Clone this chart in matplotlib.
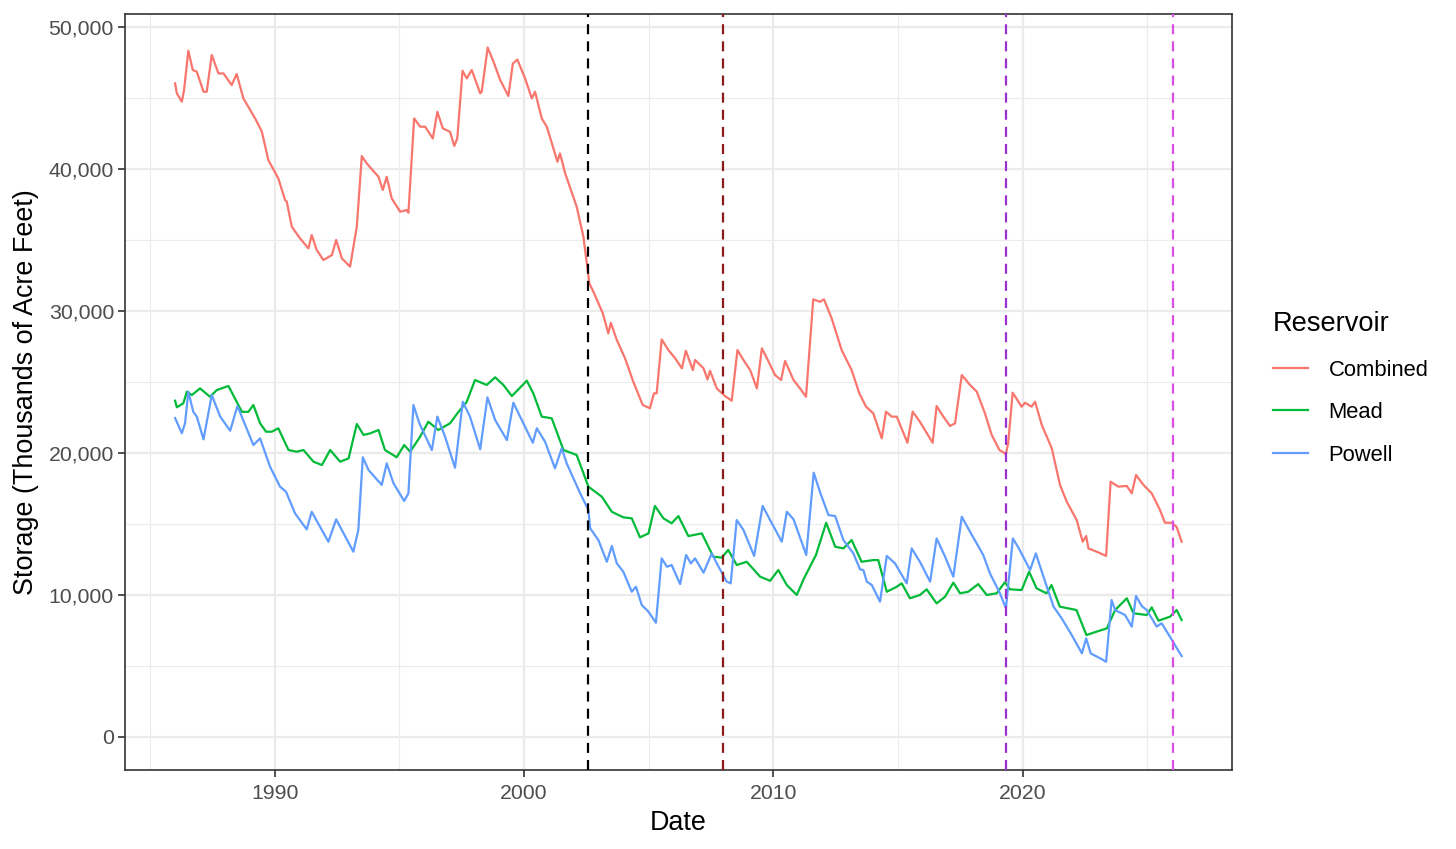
import numpy as np
import matplotlib.pyplot as plt
from matplotlib.lines import Line2D
from matplotlib.ticker import FuncFormatter, MultipleLocator

# storage, thousands of acre feet (decimal years)
combined_years = [1986.0, 1986.07, 1986.27, 1986.36, 1986.53, 1986.71, 1986.87, 1987.14, 1987.27, 1987.47,
                  1987.74, 1987.94, 1988.27, 1988.47, 1988.74, 1989.21, 1989.48, 1989.74, 1990.14, 1990.41,
                  1990.48, 1990.68, 1991.01, 1991.35, 1991.48, 1991.68, 1991.95, 1992.29, 1992.46, 1992.69,
                  1993.02, 1993.29, 1993.49, 1993.69, 1994.16, 1994.33, 1994.49, 1994.69, 1995.03, 1995.29,
                  1995.36, 1995.59, 1995.83, 1996.03, 1996.34, 1996.52, 1996.74, 1997.03, 1997.20, 1997.32,
                  1997.53, 1997.70, 1997.90, 1998.24, 1998.30, 1998.54, 1998.80, 1999.04, 1999.37, 1999.55,
                  1999.73, 2000.04, 2000.31, 2000.44, 2000.71, 2000.91, 2001.34, 2001.44, 2001.65, 2002.11,
                  2002.38, 2002.62, 2002.78, 2003.16, 2003.38, 2003.48, 2003.72, 2004.05, 2004.38, 2004.76,
                  2005.05, 2005.21, 2005.32, 2005.52, 2005.79, 2006.06, 2006.33, 2006.49, 2006.77, 2006.86,
                  2007.20, 2007.36, 2007.46, 2007.73, 2008.06, 2008.33, 2008.56, 2008.80, 2009.07, 2009.34,
                  2009.54, 2009.81, 2010.07, 2010.31, 2010.47, 2010.81, 2011.07, 2011.31, 2011.60, 2011.87,
                  2012.03, 2012.34, 2012.74, 2013.14, 2013.45, 2013.72, 2014.01, 2014.35, 2014.52, 2014.75,
                  2014.95, 2015.38, 2015.59, 2015.88, 2016.39, 2016.55, 2016.82, 2017.09, 2017.29, 2017.56,
                  2017.89, 2018.16, 2018.49, 2018.76, 2019.07, 2019.33, 2019.42, 2019.60, 2019.96, 2020.10,
                  2020.36, 2020.50, 2020.77, 2021.17, 2021.50, 2021.77, 2022.17, 2022.41, 2022.55, 2022.64,
                  2022.97, 2023.35, 2023.53, 2023.84, 2024.18, 2024.38, 2024.55, 2024.85, 2025.18, 2025.51,
                  2025.71, 2025.98, 2026.18, 2026.38]
combined_kaf = [46030, 45330, 44740, 45560, 48330, 46970, 46850, 45440, 45440, 48030,
                46730, 46730, 45910, 46690, 44970, 43560, 42630, 40630, 39340, 37820,
                37700, 35940, 35120, 34410, 35350, 34300, 33590, 33940, 35000, 33710,
                33120, 35940, 40910, 40390, 39450, 38520, 39450, 37930, 36990, 37110,
                36920, 43560, 42980, 42980, 42150, 44030, 42860, 42620, 41620, 42150,
                46920, 46380, 46970, 45330, 45440, 48560, 47430, 46270, 45140, 47430,
                47710, 46380, 44970, 45440, 43560, 42980, 40510, 41100, 39690, 37340,
                35230, 31940, 31360, 29830, 28420, 29170, 27960, 26670, 25020, 23380,
                23150, 24200, 24200, 28000, 27250, 26670, 25960, 27200, 25840, 26550,
                25960, 25180, 25790, 24550, 24010, 23680, 27250, 26550, 25840, 24550,
                27370, 26430, 25490, 25140, 26480, 25140, 24550, 23960, 30820, 30650,
                30820, 29480, 27250, 25840, 24200, 23260, 22790, 21030, 22910, 22560,
                22560, 20720, 22910, 22200, 20720, 23310, 22560, 21900, 22090, 25490,
                24790, 24320, 22790, 21270, 20210, 19930, 20680, 24250, 23260, 23540,
                23260, 23610, 21970, 20330, 17750, 16570, 15280, 13750, 14150, 13280,
                13050, 12750, 17980, 17630, 17680, 17160, 18450, 17750, 17160, 15990,
                15090, 15090, 14790, 13750]

mead_years = [1986.0, 1986.07, 1986.33, 1986.47, 1986.67, 1987.0, 1987.40, 1987.67, 1988.14, 1988.68,
              1988.94, 1989.14, 1989.41, 1989.65, 1989.88, 1990.14, 1990.55, 1990.88, 1991.15, 1991.55,
              1991.89, 1992.22, 1992.62, 1992.96, 1993.29, 1993.56, 1993.82, 1994.16, 1994.42, 1994.89,
              1995.19, 1995.43, 1995.83, 1996.16, 1996.56, 1997.03, 1997.37, 1997.70, 1998.03, 1998.50,
              1998.84, 1999.17, 1999.51, 2000.11, 2000.37, 2000.71, 2001.11, 2001.58, 2002.11, 2002.58,
              2003.12, 2003.52, 2003.98, 2004.32, 2004.65, 2004.99, 2005.25, 2005.59, 2005.92, 2006.19,
              2006.59, 2007.13, 2007.59, 2007.93, 2008.19, 2008.53, 2008.93, 2009.47, 2009.87, 2010.20,
              2010.54, 2010.94, 2011.23, 2011.71, 2012.12, 2012.48, 2012.81, 2013.14, 2013.54, 2014.01,
              2014.21, 2014.55, 2014.95, 2015.15, 2015.48, 2015.88, 2016.15, 2016.55, 2016.89, 2017.22,
              2017.49, 2017.82, 2018.22, 2018.56, 2018.96, 2019.29, 2019.49, 2019.96, 2020.26, 2020.56,
              2020.96, 2021.16, 2021.49, 2022.16, 2022.56, 2022.97, 2023.38, 2023.71, 2024.18, 2024.45,
              2024.98, 2025.18, 2025.45, 2025.91, 2026.18, 2026.38]
mead_kaf = [23680, 23220, 23500, 24320, 24080, 24550, 23960, 24430, 24720, 22900,
            22900, 23380, 22090, 21500, 21500, 21740, 20210, 20090, 20210, 19390,
            19150, 20210, 19390, 19620, 22040, 21270, 21380, 21620, 20210, 19700,
            20560, 20090, 21150, 22200, 21620, 22090, 22900, 23610, 25140, 24790,
            25330, 24790, 24010, 25090, 24200, 22560, 22440, 20210, 19860, 17630,
            16920, 15860, 15470, 15400, 14060, 14340, 16270, 15400, 15050, 15560,
            14150, 14340, 12700, 12630, 13170, 12110, 12340, 11290, 11000, 11760,
            10700, 10000, 11170, 12820, 15090, 13400, 13280, 13870, 12340, 12460,
            12460, 10230, 10580, 10820, 9770, 10000, 10400, 9410, 9880, 10870,
            10120, 10230, 10770, 10000, 10120, 10900, 10400, 10350, 11640, 10470,
            10120, 10700, 9180, 8940, 7180, 7420, 7650, 8940, 9770, 8710,
            8590, 9130, 8190, 8470, 8940, 8240]

powell_years = [1986.0, 1986.27, 1986.4, 1986.53, 1986.73, 1986.87, 1987.14, 1987.47, 1987.81, 1988.21,
                1988.50, 1989.14, 1989.41, 1989.81, 1990.21, 1990.45, 1990.81, 1991.28, 1991.48, 1992.15,
                1992.46, 1993.15, 1993.35, 1993.53, 1993.76, 1994.29, 1994.49, 1994.76, 1995.19, 1995.36,
                1995.56, 1995.80, 1996.30, 1996.52, 1996.83, 1997.23, 1997.54, 1997.83, 1998.24, 1998.53,
                1998.84, 1999.31, 1999.57, 1999.84, 2000.35, 2000.51, 2000.84, 2001.24, 2001.51, 2001.71,
                2002.25, 2002.58, 2002.65, 2002.98, 2003.32, 2003.52, 2003.72, 2003.98, 2004.32, 2004.49,
                2004.72, 2004.99, 2005.29, 2005.52, 2005.73, 2005.92, 2006.26, 2006.50, 2006.69, 2006.86,
                2007.20, 2007.53, 2007.73, 2008.13, 2008.29, 2008.53, 2008.80, 2009.23, 2009.57, 2009.94,
                2010.34, 2010.54, 2010.81, 2011.32, 2011.62, 2011.89, 2012.21, 2012.48, 2012.81, 2013.21,
                2013.48, 2013.61, 2013.75, 2013.95, 2014.28, 2014.55, 2014.88, 2015.35, 2015.55, 2015.88,
                2016.29, 2016.55, 2016.89, 2017.22, 2017.56, 2017.89, 2018.42, 2018.69, 2019.09, 2019.33,
                2019.61, 2019.85, 2020.30, 2020.53, 2020.77, 2021.24, 2021.57, 2021.97, 2022.38, 2022.55,
                2022.73, 2023.11, 2023.35, 2023.57, 2023.71, 2024.11, 2024.38, 2024.55, 2024.78, 2024.98,
                2025.38, 2025.58, 2025.91, 2026.11, 2026.38]
powell_kaf = [22460, 21390, 22100, 24320, 22900, 22560, 20960, 24080, 22560, 21570,
              23310, 20560, 21030, 19030, 17630, 17270, 15750, 14620, 15860, 13750,
              15330, 13050, 14580, 19700, 18800, 17750, 19270, 17870, 16620, 17160,
              23380, 22090, 20210, 22560, 21150, 18960, 23610, 22560, 20260, 23920,
              22320, 20910, 23540, 22560, 20720, 21740, 20800, 18920, 20330, 19270,
              17160, 15990, 14700, 13870, 12340, 13450, 12230, 11640, 10230, 10580,
              9300, 8820, 8050, 12580, 11990, 12110, 10770, 12820, 12230, 12580,
              11570, 12930, 12230, 10940, 10820, 15280, 14580, 12750, 16270, 15050,
              13750, 15860, 15330, 12820, 18610, 17160, 15630, 15560, 13870, 12930,
              11800, 11760, 10940, 10700, 9530, 12750, 12230, 10820, 13280, 12340,
              10940, 13980, 12700, 11290, 15510, 14460, 12820, 11520, 10120, 9060,
              13980, 13280, 11760, 12930, 11640, 9180, 8350, 7180, 5890, 6950,
              5890, 5540, 5300, 9650, 8940, 8590, 7770, 9930, 9220, 8940,
              7770, 8010, 7060, 6480, 5700]

reservoirs = ['Combined', 'Mead', 'Powell']
event_years = [2002.58, 2007.98, 2019.33, 2026.03]

colors = {'Combined': '#F8766D', 'Mead': '#00BA38', 'Powell': '#619CFF'}
event_colors = ['black', '#8B1A1A', '#9932CC', '#D94FE3']

plt.rcParams['font.family'] = ['Liberation Sans', 'DejaVu Sans']

fig = plt.figure(figsize=(14.56, 8.49), dpi=100)
ax = fig.add_axes([125/1456, 1 - 770/849, (1232 - 125)/1456, (770 - 14)/849])

series = {'Combined': (combined_years, combined_kaf),
          'Mead': (mead_years, mead_kaf),
          'Powell': (powell_years, powell_kaf)}
for name in reservoirs:
    xs, ys = series[name]
    ax.plot(xs, ys, color=colors[name], lw=1.6, solid_joinstyle='round', zorder=3)

for yr, c in zip(event_years, event_colors):
    ax.axvline(yr, color=c, lw=1.6, dashes=(4.5, 3.2), zorder=4)

ax.set_xlim(1983.99, 2028.40)
ax.set_ylim(-2324, 50915)
ax.xaxis.set_major_locator(MultipleLocator(10))
ax.xaxis.set_minor_locator(MultipleLocator(5))
ax.yaxis.set_major_locator(MultipleLocator(10000))
ax.yaxis.set_minor_locator(MultipleLocator(5000))
ax.yaxis.set_major_formatter(FuncFormatter(lambda v, p: f'{int(v):,}'))
ax.xaxis.set_major_formatter(FuncFormatter(lambda v, p: f'{int(v)}'))

ax.grid(which='major', color='#EBEBEB', lw=1.6, zorder=0)
ax.grid(which='minor', color='#EBEBEB', lw=0.8, zorder=0)
ax.set_axisbelow(True)
ax.tick_params(which='major', length=5, width=1.2, color='#333333', labelcolor='#4D4D4D',
               labelsize=15.3, pad=3)
ax.tick_params(axis='x', which='major', pad=5)
ax.tick_params(which='minor', length=0)
for sp in ax.spines.values():
    sp.set_color('#333333')
    sp.set_linewidth(1.2)

ax.set_xlabel('Date', fontsize=19.4, labelpad=5)
ax.set_ylabel('Storage (Thousands of Acre Feet)', fontsize=19.4, labelpad=7)

handles = [Line2D([], [], color=colors[n], lw=1.6) for n in reservoirs]
leg = fig.legend(handles, reservoirs, title='Reservoir', loc='upper left',
                 bbox_to_anchor=(1264/1456, 1 - 302/849), frameon=False,
                 fontsize=15.8, title_fontsize=19.6, handlelength=1.6,
                 handletextpad=0.95, labelspacing=0.98, borderaxespad=0)
leg._legend_box.align = 'left'
leg._legend_box.sep += 1

fig.savefig('out.png', dpi=100)
